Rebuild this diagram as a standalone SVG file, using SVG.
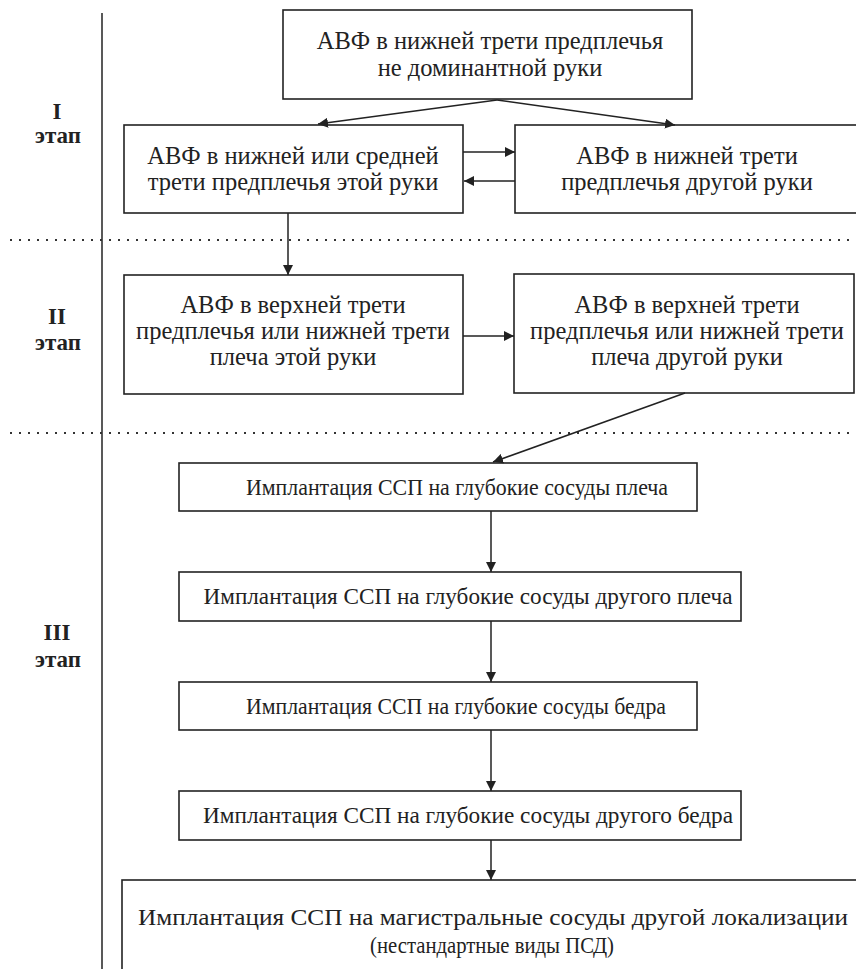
<svg xmlns="http://www.w3.org/2000/svg" width="856" height="969" viewBox="0 0 856 969">
<defs>
<style>
.box{fill:#fff;stroke:#222;stroke-width:1.6}
.t{font-family:'Liberation Serif','DejaVu Serif','Times New Roman',serif;font-size:24.5px;fill:#222;text-anchor:middle}
.m{font-family:'Liberation Serif','DejaVu Serif','Times New Roman',serif;font-size:23px;fill:#222;text-anchor:middle}
.s{font-family:'Liberation Serif','DejaVu Serif','Times New Roman',serif;font-size:23px;font-weight:bold;fill:#222;text-anchor:middle}
.c{fill:none;stroke:#222;stroke-width:1.5}
.dot{fill:none;stroke:#333;stroke-width:2;stroke-dasharray:2 7}
</style>
<marker id="ah" viewBox="0 0 10 10" refX="10" refY="5" markerWidth="10" markerHeight="10" markerUnits="userSpaceOnUse" orient="auto">
<path d="M0,0 L10,5 L0,10 z" fill="#222"/>
</marker>
</defs>
<rect width="856" height="969" fill="#fff"/>
<g id="axis">
<line x1="102" y1="13" x2="102" y2="969" stroke="#222" stroke-width="1.5"/>
<line class="dot" x1="10" y1="240" x2="856" y2="240"/>
<line class="dot" x1="10" y1="433" x2="856" y2="433"/>
</g>
<g id="stages">
<text class="s" x="57" y="119">I</text>
<text class="s" x="58" y="143">этап</text>
<text class="s" x="57" y="324">II</text>
<text class="s" x="58" y="350">этап</text>
<text class="s" x="57" y="640">III</text>
<text class="s" x="58" y="667">этап</text>
</g>
<g id="n1">
<rect class="box" x="283" y="10" width="409" height="89"/>
<text class="t" x="490" y="49">АВФ в нижней трети предплечья</text>
<text class="t" x="490" y="76">не доминантной руки</text>
</g>
<g id="n2">
<rect class="box" x="124" y="125" width="339" height="88"/>
<text class="t" x="293" y="164">АВФ в нижней или средней</text>
<text class="t" x="293" y="190">трети предплечья этой руки</text>
</g>
<g id="n3">
<rect class="box" x="515" y="125" width="345" height="88"/>
<text class="t" x="687" y="164">АВФ в нижней  трети</text>
<text class="t" x="687" y="190">предплечья другой руки</text>
</g>
<g id="n4">
<rect class="box" x="124" y="275" width="339" height="119"/>
<text class="t" x="293" y="313">АВФ в верхней трети</text>
<text class="t" x="293" y="339">предплечья или нижней трети</text>
<text class="t" x="293" y="365">плеча этой руки</text>
</g>
<g id="n5">
<rect class="box" x="514" y="274" width="340" height="119"/>
<text class="t" x="687" y="313">АВФ в верхней трети</text>
<text class="t" x="687" y="339">предплечья или нижней трети</text>
<text class="t" x="687" y="365">плеча другой руки</text>
</g>
<g id="n6">
<rect class="box" x="179" y="463" width="518" height="48"/>
<text class="m" x="457" y="495" textLength="422" lengthAdjust="spacingAndGlyphs">Имплантация ССП на глубокие сосуды плеча</text>
</g>
<g id="n7">
<rect class="box" x="179" y="572" width="562" height="49"/>
<text class="m" x="468" y="604" textLength="529" lengthAdjust="spacingAndGlyphs">Имплантация ССП на глубокие сосуды другого плеча</text>
</g>
<g id="n8">
<rect class="box" x="179" y="682" width="518" height="48"/>
<text class="m" x="456" y="714" textLength="420" lengthAdjust="spacingAndGlyphs">Имплантация ССП на глубокие сосуды бедра</text>
</g>
<g id="n9">
<rect class="box" x="179" y="791" width="562" height="49"/>
<text class="m" x="468" y="823" textLength="530" lengthAdjust="spacingAndGlyphs">Имплантация ССП на глубокие сосуды другого бедра</text>
</g>
<g id="n10">
<rect class="box" x="122" y="880" width="760" height="120"/>
<text class="m" x="493" y="925" textLength="710" lengthAdjust="spacingAndGlyphs">Имплантация ССП на магистральные сосуды другой локализации</text>
<text class="m" x="492" y="953" textLength="244" lengthAdjust="spacingAndGlyphs">(нестандартные виды ПСД)</text>
</g>
<g id="connectors">
<line class="c" x1="497" y1="100" x2="318" y2="124" marker-end="url(#ah)"/>
<line class="c" x1="497" y1="100" x2="675" y2="125" marker-end="url(#ah)"/>
<line class="c" x1="463" y1="152" x2="515" y2="152" marker-end="url(#ah)"/>
<line class="c" x1="515" y1="181" x2="464" y2="181" marker-end="url(#ah)"/>
<line class="c" x1="288" y1="213" x2="288" y2="275" marker-end="url(#ah)"/>
<line class="c" x1="463" y1="336" x2="514" y2="336" marker-end="url(#ah)"/>
<line class="c" x1="685" y1="393" x2="493" y2="462" marker-end="url(#ah)"/>
<line class="c" x1="491" y1="511" x2="491" y2="572" marker-end="url(#ah)"/>
<line class="c" x1="491" y1="621" x2="491" y2="682" marker-end="url(#ah)"/>
<line class="c" x1="491" y1="730" x2="491" y2="791" marker-end="url(#ah)"/>
<line class="c" x1="491" y1="840" x2="491" y2="880" marker-end="url(#ah)"/>
</g>
</svg>
